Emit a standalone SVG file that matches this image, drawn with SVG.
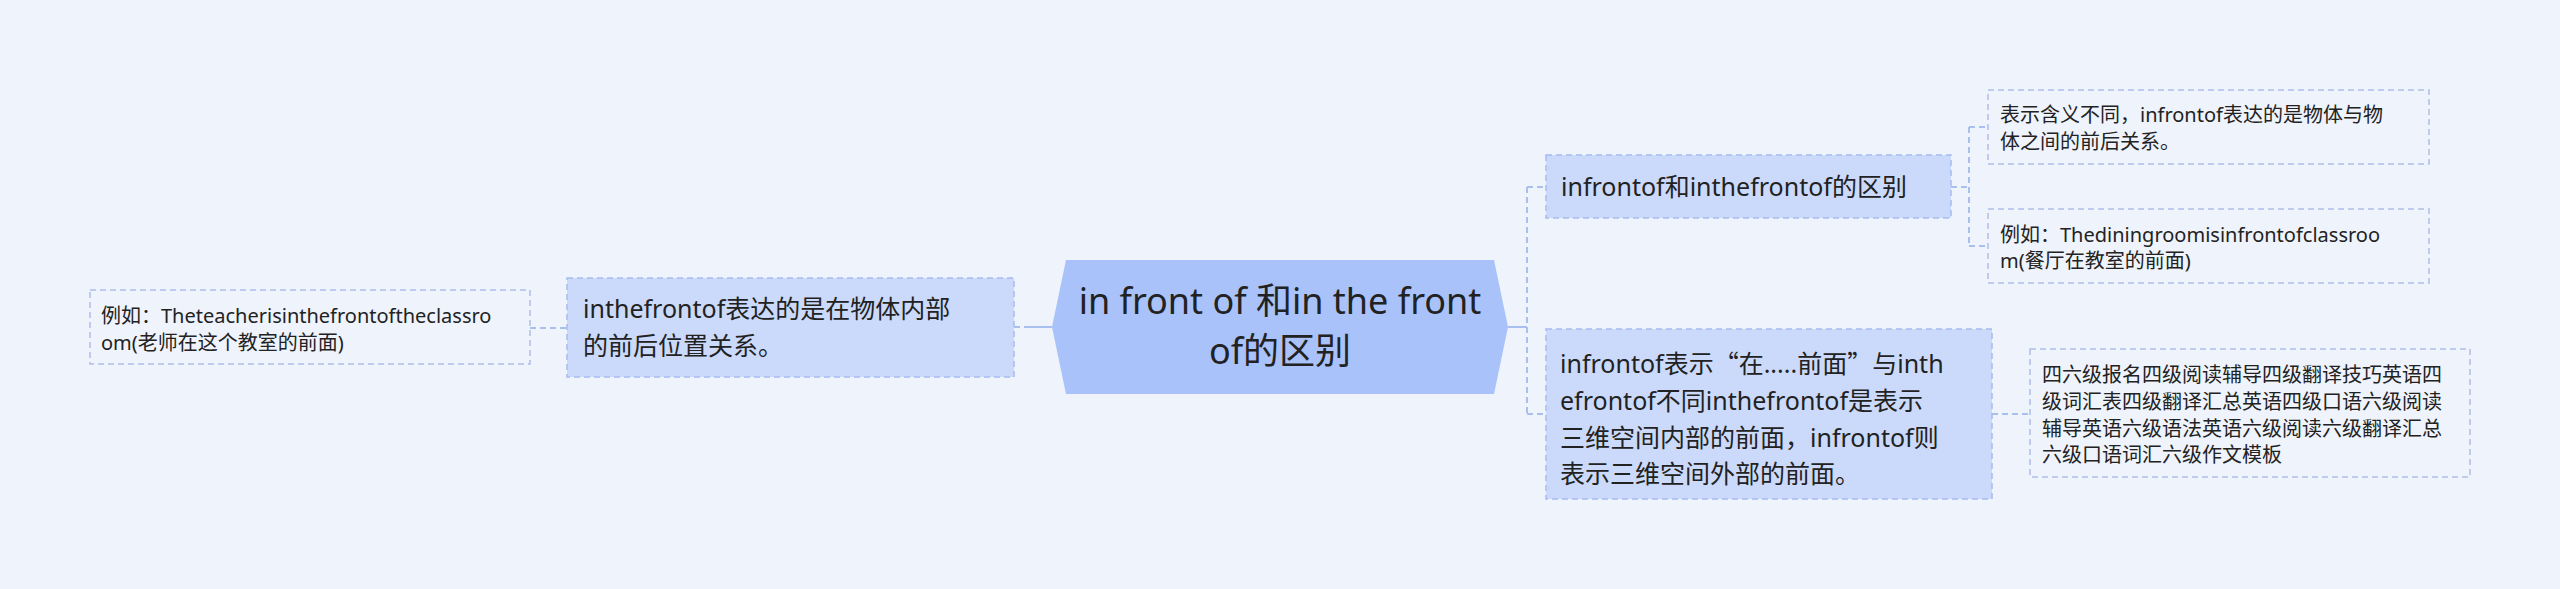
<svg xmlns="http://www.w3.org/2000/svg" width="2560" height="589" viewBox="0 0 2560 589">
<style>
.bg{fill:#eef3fc}
.t{font-family:"Noto Sans","Noto Sans CJK SC",sans-serif;fill:#222}
.cjk{font-family:"Noto Sans CJK SC",sans-serif}
.c{stroke:#a9c0ef;stroke-width:2;fill:none}
.d{stroke-dasharray:6 4}
.l1{fill:#cbdafb;stroke:#a6bcef;stroke-width:1.5;stroke-dasharray:6 4}
.lf{fill:none;stroke:#aebfe6;stroke-width:1.5;stroke-dasharray:6 4}
.f34{font-size:36px}
.f25{font-size:25px}
.f20{font-size:20px}
</style>
<rect class="bg" x="0" y="0" width="2560" height="589"/>
<g id="connectors">
<line class="c" x1="1508" y1="327" x2="1527" y2="327"/>
<line class="c d" x1="1527" y1="187" x2="1527" y2="414"/>
<line class="c d" x1="1527" y1="187" x2="1546" y2="187"/>
<line class="c d" x1="1527" y1="414" x2="1546" y2="414"/>
<line class="c d" x1="1951" y1="187" x2="1969" y2="187"/>
<line class="c d" x1="1969" y1="127" x2="1969" y2="246"/>
<line class="c d" x1="1969" y1="127" x2="1988" y2="127"/>
<line class="c d" x1="1969" y1="246" x2="1988" y2="246"/>
<line class="c d" x1="1992" y1="414" x2="2030" y2="414"/>
<line class="c d" x1="1014" y1="327" x2="1030" y2="327"/>
<line class="c" x1="1030" y1="327" x2="1052" y2="327"/>
<line class="c d" x1="530" y1="328" x2="567" y2="328"/>
</g>
<g id="center">
<polygon points="1052,327 1066,260 1494,260 1508,327 1494,394 1066,394" fill="#a9c2fa"/>
<text class="t f34" text-anchor="middle" x="1280" y="314">in front of 和in the front</text>
<text class="t f34" text-anchor="middle" x="1280" y="364">of的区别</text>
</g>
<g id="left1">
<rect class="l1" x="567" y="278" width="447" height="99"/>
<text class="t f25" x="583" y="318">inthefrontof表达的是在物体内部</text>
<text class="t f25" x="583" y="355">的前后位置关系。</text>
</g>
<g id="left2">
<rect class="lf" x="90" y="290" width="440" height="74"/>
<text class="t f20" x="101" y="323">例如：Theteacherisinthefrontoftheclassro</text>
<text class="t f20" x="101" y="350">om(老师在这个教室的前面)</text>
</g>
<g id="right1">
<rect class="l1" x="1546" y="155" width="405" height="63"/>
<text class="t f25" x="1561" y="196">infrontof和inthefrontof的区别</text>
</g>
<g id="right2">
<rect class="l1" x="1546" y="329" width="446" height="170"/>
<text class="t f25" x="1560" y="373">infrontof表示<tspan class="cjk">“</tspan>在.....前面<tspan class="cjk">”</tspan>与inth</text>
<text class="t f25" x="1560" y="410">efrontof不同inthefrontof是表示</text>
<text class="t f25" x="1560" y="447">三维空间内部的前面，infrontof则</text>
<text class="t f25" x="1560" y="483">表示三维空间外部的前面。</text>
</g>
<g id="leaf1">
<rect class="lf" x="1988" y="90" width="441" height="74"/>
<text class="t f20" x="2000" y="122">表示含义不同，infrontof表达的是物体与物</text>
<text class="t f20" x="2000" y="149">体之间的前后关系。</text>
</g>
<g id="leaf2">
<rect class="lf" x="1988" y="209" width="441" height="74"/>
<text class="t f20" x="2000" y="242">例如：Thediningroomisinfrontofclassroo</text>
<text class="t f20" x="2000" y="268">m(餐厅在教室的前面)</text>
</g>
<g id="leaf3">
<rect class="lf" x="2030" y="349" width="440" height="128"/>
<text class="t f20" x="2042" y="382">四六级报名四级阅读辅导四级翻译技巧英语四</text>
<text class="t f20" x="2042" y="409">级词汇表四级翻译汇总英语四级口语六级阅读</text>
<text class="t f20" x="2042" y="436">辅导英语六级语法英语六级阅读六级翻译汇总</text>
<text class="t f20" x="2042" y="462">六级口语词汇六级作文模板</text>
</g>
</svg>
